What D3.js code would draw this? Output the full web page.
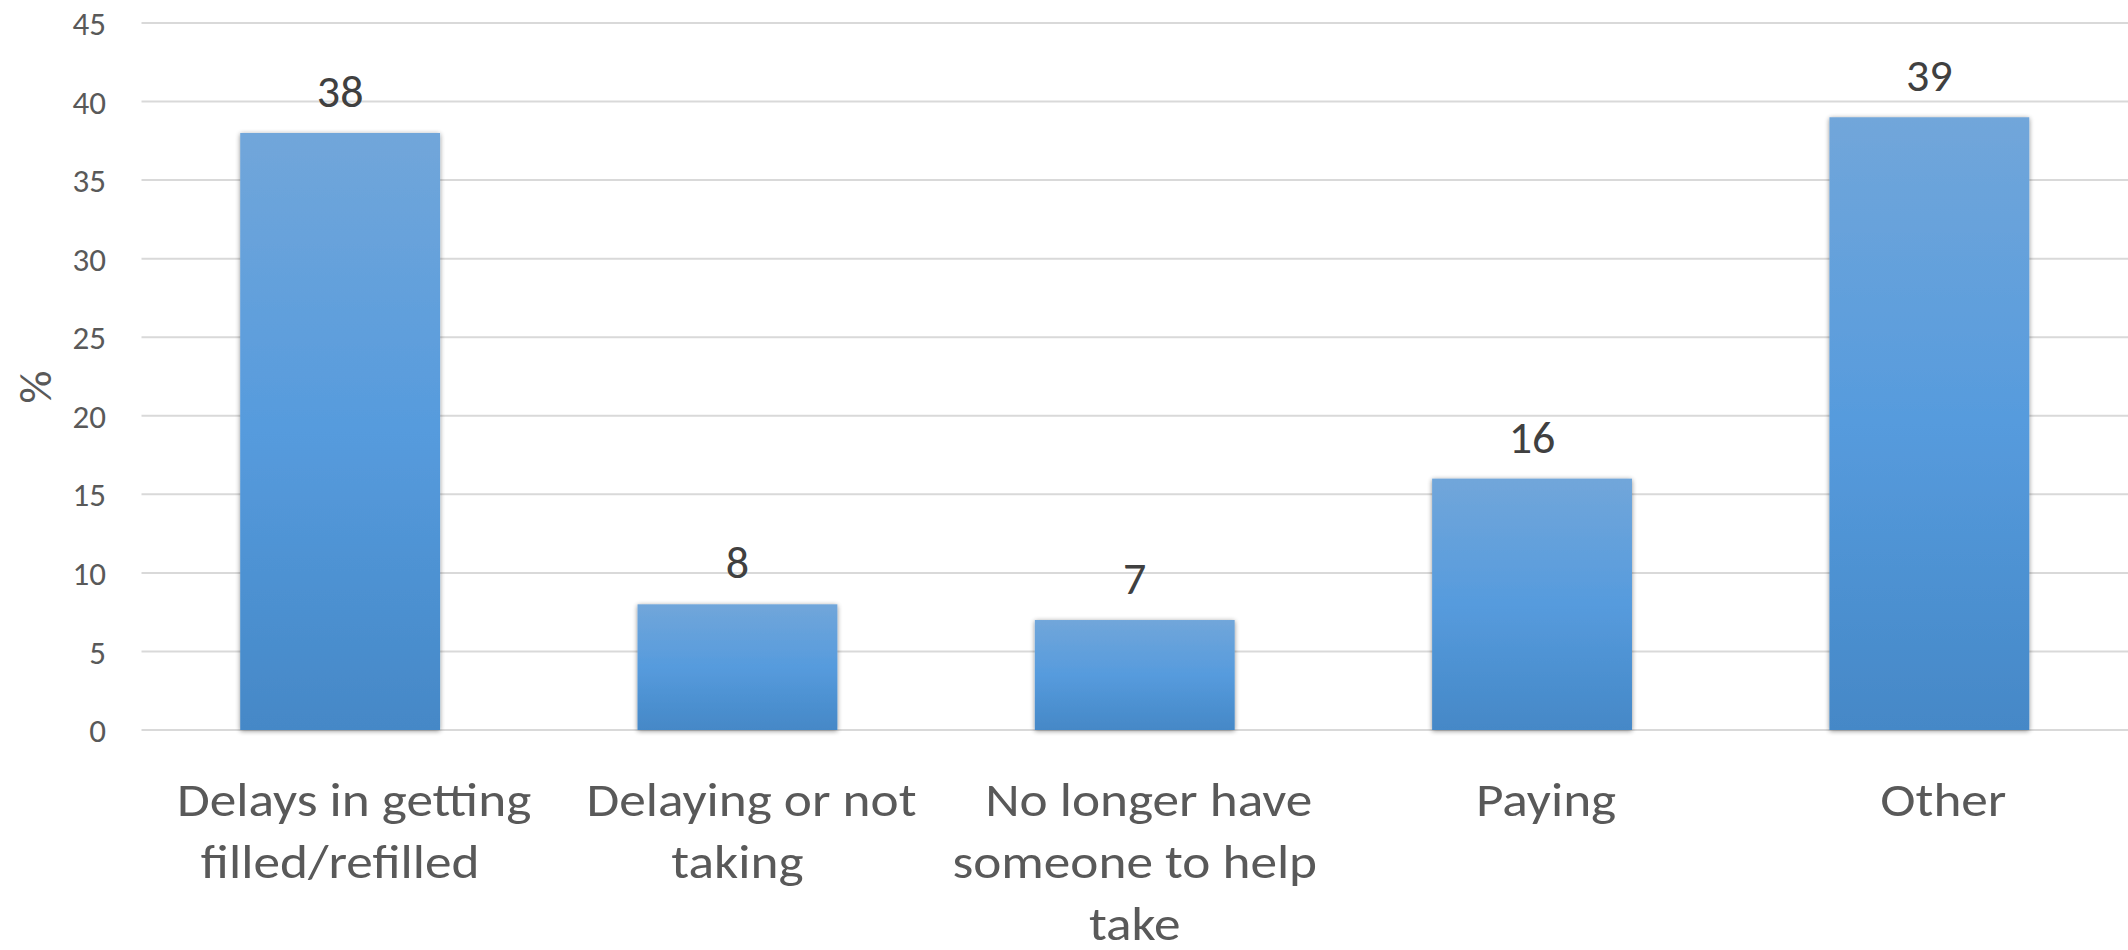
<!DOCTYPE html>
<html>
<head>
<meta charset="utf-8">
<script src="https://cdn.jsdelivr.net/npm/d3@7"></script>
<style>
  html, body { margin: 0; padding: 0; background: #fff; }
  svg { display: block; font-family: Carlito, Lato, "Open Sans", sans-serif; }
</style>
</head>
<body>
<svg id="chart" width="2128" height="950"></svg>
<script>
const categories = [
  "Delays in getting filled/refilled",
  "Delaying or not taking",
  "No longer have someone to help take",
  "Paying",
  "Other"
];
const values = [38, 8, 7, 16, 39];
const yTicks = [0, 5, 10, 15, 20, 25, 30, 35, 40, 45];
const yTitle = "%";

const W = 2128, H = 950;
const plot = { left: 141.5, right: 2128, top: 23, bottom: 730 };

const svg = d3.select("#chart");

const defs = svg.append("defs");
const grad = defs.append("linearGradient")
  .attr("id", "barGrad").attr("x1", 0).attr("y1", 0).attr("x2", 0).attr("y2", 1);
grad.append("stop").attr("offset", "0%").attr("stop-color", "#71a6da");
grad.append("stop").attr("offset", "50%").attr("stop-color", "#569bdd");
grad.append("stop").attr("offset", "100%").attr("stop-color", "#4588c7");

const shadow = defs.append("filter").attr("id", "shadow")
  .attr("x", "-10%").attr("y", "-10%").attr("width", "120%").attr("height", "120%");
shadow.append("feGaussianBlur").attr("in", "SourceAlpha").attr("stdDeviation", 2.5).attr("result", "blur");
shadow.append("feOffset").attr("in", "blur").attr("dx", 0).attr("dy", 1).attr("result", "off");
shadow.append("feComponentTransfer").attr("in", "off").attr("result", "soft")
  .append("feFuncA").attr("type", "linear").attr("slope", 0.45);
const merge = shadow.append("feMerge");
merge.append("feMergeNode").attr("in", "soft");
merge.append("feMergeNode").attr("in", "SourceGraphic");

const x = d3.scaleBand()
  .domain(categories)
  .range([plot.left, plot.right])
  .paddingInner(0.497)
  .paddingOuter(0.2485);

const y = d3.scaleLinear()
  .domain([0, 45])
  .range([plot.bottom, plot.top]);

// gridlines
svg.append("g")
  .attr("class", "grid")
  .selectAll("line")
  .data(yTicks)
  .join("line")
  .attr("x1", plot.left).attr("x2", plot.right)
  .attr("y1", d => y(d)).attr("y2", d => y(d))
  .attr("stroke", "#d9d9d9").attr("stroke-width", 2);

// y axis labels
const yAxis = d3.axisLeft(y).tickValues(yTicks).tickSize(0).tickPadding(0);
const yg = svg.append("g").attr("transform", `translate(106,0)`).call(yAxis);
yg.select(".domain").remove();
yg.selectAll("text")
  .attr("font-size", 33)
  .attr("fill", "#595959")
  .attr("font-family", "Carlito, Lato, sans-serif")
  .attr("dy", "0.35em");

// y title
svg.append("text")
  .attr("transform", "translate(35,387) rotate(-90)")
  .attr("text-anchor", "middle")
  .attr("dy", "0.35em")
  .attr("font-size", 46)
  .attr("fill", "#595959")
  .text(yTitle);

// bars
svg.append("g").selectAll("rect")
  .data(values)
  .join("rect")
  .attr("x", (d, i) => x(categories[i]))
  .attr("width", x.bandwidth())
  .attr("y", d => y(d))
  .attr("height", d => y(0) - y(d))
  .attr("fill", "url(#barGrad)")
  .attr("filter", "url(#shadow)");

// value labels
svg.append("g").selectAll("text")
  .data(values)
  .join("text")
  .attr("x", (d, i) => x(categories[i]) + x.bandwidth() / 2)
  .attr("y", d => y(d) - 26)
  .attr("text-anchor", "middle")
  .attr("font-size", 46)
  .attr("fill", "#404040")
  .text(d => d);

// x axis labels with wrapping (slightly widened to match the reference's wider face)
const stretch = 1.11;
const xAxis = d3.axisBottom(x).tickSize(0).tickPadding(0);
const xg = svg.append("g").attr("transform", `translate(0,${plot.bottom})`).call(xAxis);
xg.select(".domain").remove();
xg.selectAll("text")
  .attr("font-size", 48)
  .attr("fill", "#595959")
  .attr("font-family", "Carlito, Lato, sans-serif")
  .attr("y", 86)
  .attr("dy", 0)
  .attr("transform", `scale(${stretch},1)`)
  .each(function () { wrap(d3.select(this), 380 / stretch); });

function wrap(text, width) {
  const words = text.text().split(/\s+/);
  const lineH = 62;
  text.text(null);
  let line = [];
  let lineNo = 0;
  let tspan = text.append("tspan").attr("x", 0).attr("y", 86);
  const spans = [tspan];
  for (const w of words) {
    line.push(w);
    tspan.text(line.join(" "));
    if (tspan.node().getComputedTextLength() > width && line.length > 1) {
      line.pop();
      tspan.text(line.join(" "));
      line = [w];
      lineNo++;
      tspan = text.append("tspan").attr("x", 0).attr("y", 86 + lineNo * lineH).text(w);
      spans.push(tspan);
    }
  }
  // the first line of each label sits slightly right of the bar centre in the reference
  spans[0].attr("x", 14 / stretch);
}
</script>
</body>
</html>
